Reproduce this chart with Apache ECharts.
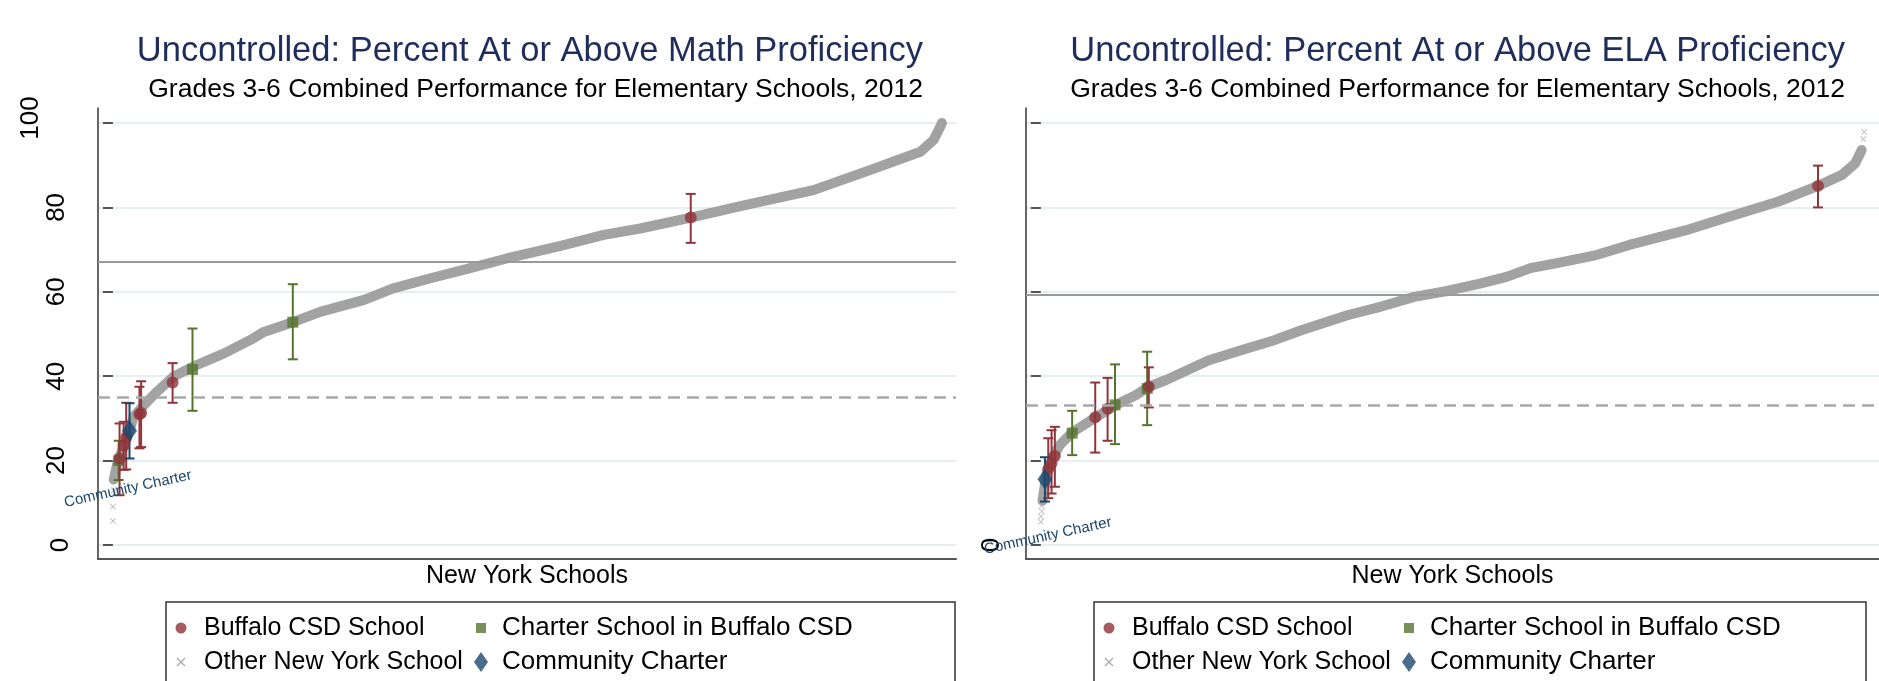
<!DOCTYPE html>
<html>
<head>
<meta charset="UTF-8">
<title>Percent At or Above Proficiency</title>
<style>
  html, body { margin: 0; padding: 0; background: #fff; }
  #main { width: 1879px; height: 681px; }
</style>
</head>
<body>
<div id="main"></div>
<script src="https://cdn.jsdelivr.net/npm/echarts@6/dist/echarts.min.js"></script>
<script>
// x = school rank as a percentile (0 = lowest school), y = percent proficient

// ---- Math panel ----
var mathCurveRank  = [0.1, 0.5, 1.2, 1.9, 2.5, 3.9, 5.3, 7.3, 9.7, 13.4, 16.6, 18.2, 21.7, 25.1, 30.3, 33.8, 38.3, 43.1, 47.5, 54.0, 59.2, 63.6, 69.7, 75.7, 84.5, 91.4, 97.4, 99.0, 99.8, 100];
var mathCurveScore = [15.5, 19.0, 23.0, 26.5, 30.4, 33.5, 36.3, 39.9, 42.3, 45.4, 48.6, 50.5, 52.8, 55.3, 58.1, 60.8, 63.2, 65.6, 67.9, 70.9, 73.5, 75.0, 77.6, 80.3, 84.1, 88.9, 93.2, 96.0, 99.1, 100];
var mathOtherRank  = [0.0, 0.0, 0.1, 99.9, 100];
var mathOtherScore = [5.7, 9.1, 13.0, 99.5, 100.4];

var mathBuffaloRank  = [0.8, 1.3, 1.6, 3.2, 3.4, 7.2, 69.7];
var mathBuffaloScore = [20.5, 23.5, 25.5, 31.0, 31.3, 38.5, 77.6];
var mathBuffaloLow   = [11.8, 17.8, 17.9, 22.9, 23.2, 33.7, 71.6];
var mathBuffaloHigh  = [28.8, 29.2, 33.7, 37.5, 38.8, 43.1, 83.2];

var mathCharterRank  = [0.7, 9.6, 21.7];
var mathCharterScore = [20.0, 41.6, 52.8];
var mathCharterLow   = [15.4, 31.8, 44.0];
var mathCharterHigh  = [24.7, 51.3, 61.8];

var mathCommunityRank  = [2.0];
var mathCommunityScore = [27.1];
var mathCommunityLow   = [20.5];
var mathCommunityHigh  = [33.6];

var mathStateLine = 67.2;
var mathBuffaloLine = 35.1;

// ---- ELA panel ----
var elaCurveRank  = [0.2, 0.7, 1.5, 2.3, 3.9, 5.5, 7.1, 9.5, 11.5, 13.1, 15.2, 19.2, 20.4, 24.4, 28.4, 31.6, 37.3, 41.3, 45.3, 49.3, 53.4, 56.6, 59.4, 62.6, 67.4, 71.4, 78.3, 83.5, 89.5, 94.3, 97.2, 98.8, 99.6];
var elaCurveScore = [10.5, 17.0, 20.9, 23.7, 26.8, 28.8, 30.8, 33.6, 35.5, 37.5, 39.1, 42.7, 43.8, 46.2, 48.6, 50.9, 54.5, 56.5, 58.8, 60.2, 62.0, 63.6, 65.6, 66.8, 68.7, 71.1, 74.6, 77.8, 81.4, 85.1, 87.7, 90.4, 93.6];
var elaOtherRank  = [0.0, 0.0, 0.1, 0.1, 99.8, 99.9];
var elaOtherScore = [5.5, 6.8, 8.0, 9.3, 96.2, 97.9];

var elaBuffaloRank  = [0.9, 1.3, 1.7, 6.6, 8.1, 13.1, 94.3];
var elaBuffaloScore = [18.0, 19.4, 21.1, 30.3, 32.3, 37.5, 85.1];
var elaBuffaloLow   = [11.1, 12.2, 13.8, 21.9, 24.7, 32.6, 80.0];
var elaBuffaloHigh  = [25.3, 27.2, 28.0, 38.5, 39.6, 42.1, 89.9];

var elaCharterRank  = [3.8, 9.0, 12.9];
var elaCharterScore = [26.5, 33.2, 37.1];
var elaCharterLow   = [21.3, 23.9, 28.4];
var elaCharterHigh  = [31.8, 42.8, 45.8];

var elaCommunityRank  = [0.5];
var elaCommunityScore = [15.6];
var elaCommunityLow   = [10.3];
var elaCommunityHigh  = [20.8];

var elaStateLine = 59.2;
var elaBuffaloLine = 33.1;

var FONT = '"Liberation Sans", Arial, Helvetica, sans-serif';
var RED = '#90353b', GREEN = '#55752f', NAVY = '#1a476f', CURVE = '#a2a2a2', GRIDC = '#e6eef0';
var XMARK = 'path://M1,0 L5,4 L9,0 L10,1 L6,5 L10,9 L9,10 L5,6 L1,10 L0,9 L4,5 L0,1 Z';

function pts(xs, ys) { return xs.map(function (x, i) { return [x, ys[i]]; }); }
function bars(xs, lo, hi) { return xs.map(function (x, i) { return [x, lo[i], hi[i]]; }); }

function errorBar(color) {
	return function (params, api) {
		var lo = api.coord([api.value(0), api.value(1)]);
		var hi = api.coord([api.value(0), api.value(2)]);
		var w = 5;
		var st = { stroke: color, lineWidth: 2 };
		return {
			type: 'group',
			children: [
				{ type: 'line', shape: { x1: lo[0], y1: lo[1], x2: hi[0], y2: hi[1] }, style: st },
				{ type: 'line', shape: { x1: hi[0] - w, y1: hi[1], x2: hi[0] + w, y2: hi[1] }, style: st },
				{ type: 'line', shape: { x1: lo[0] - w, y1: lo[1], x2: lo[0] + w, y2: lo[1] }, style: st }
			]
		};
	};
}

function panelSeries(ax, d) {
	return [
		{
			type: 'line', xAxisIndex: ax, yAxisIndex: ax, data: [], z: 1, silent: true,
			markLine: {
				symbol: 'none', silent: true, label: { show: false },
				data: [
					{ yAxis: d.state, lineStyle: { color: '#9a9a9a', width: 2, type: 'solid' } },
					{ yAxis: d.buffalo, lineStyle: { color: '#a8a8a8', width: 2.5, type: [12, 7] } }
				]
			}
		},
		{
			name: 'Other New York School', type: 'line', xAxisIndex: ax, yAxisIndex: ax, z: 2,
			data: pts(d.curveX, d.curveY), showSymbol: false, symbol: 'none', silent: true,
			lineStyle: { color: CURVE, width: 10, cap: 'round', join: 'round' }
		},
		{
			name: 'Other New York School', type: 'scatter', xAxisIndex: ax, yAxisIndex: ax, z: 2,
			data: pts(d.otherX, d.otherY), symbol: XMARK, symbolSize: 6, itemStyle: { color: '#a8a8a8' }
		},
		{ name: 'ci green', type: 'custom', xAxisIndex: ax, yAxisIndex: ax, z: 3, renderItem: errorBar(GREEN), data: bars(d.chX, d.chLo, d.chHi) },
		{ name: 'ci red', type: 'custom', xAxisIndex: ax, yAxisIndex: ax, z: 3, renderItem: errorBar(RED), data: bars(d.buX, d.buLo, d.buHi) },
		{ name: 'ci navy', type: 'custom', xAxisIndex: ax, yAxisIndex: ax, z: 3, renderItem: errorBar(NAVY), data: bars(d.coX, d.coLo, d.coHi) },
		{
			name: 'Charter School in Buffalo CSD', type: 'scatter', xAxisIndex: ax, yAxisIndex: ax, z: 4,
			data: pts(d.chX, d.chY), symbol: 'rect', symbolSize: 11, itemStyle: { color: GREEN }
		},
		{
			name: 'Buffalo CSD School', type: 'scatter', xAxisIndex: ax, yAxisIndex: ax, z: 4,
			data: pts(d.buX, d.buY), symbol: 'circle', symbolSize: 12, itemStyle: { color: RED }
		},
		{
			name: 'Community Charter', type: 'scatter', xAxisIndex: ax, yAxisIndex: ax, z: 4,
			data: pts(d.coX, d.coY), symbol: 'diamond', symbolSize: [15, 21], itemStyle: { color: NAVY }
		}
	];
}

var mathData = {
	state: mathStateLine, buffalo: mathBuffaloLine,
	curveX: mathCurveRank, curveY: mathCurveScore, otherX: mathOtherRank, otherY: mathOtherScore,
	buX: mathBuffaloRank, buY: mathBuffaloScore, buLo: mathBuffaloLow, buHi: mathBuffaloHigh,
	chX: mathCharterRank, chY: mathCharterScore, chLo: mathCharterLow, chHi: mathCharterHigh,
	coX: mathCommunityRank, coY: mathCommunityScore, coLo: mathCommunityLow, coHi: mathCommunityHigh
};
var elaData = {
	state: elaStateLine, buffalo: elaBuffaloLine,
	curveX: elaCurveRank, curveY: elaCurveScore, otherX: elaOtherRank, otherY: elaOtherScore,
	buX: elaBuffaloRank, buY: elaBuffaloScore, buLo: elaBuffaloLow, buHi: elaBuffaloHigh,
	chX: elaCharterRank, chY: elaCharterScore, chLo: elaCharterLow, chHi: elaCharterHigh,
	coX: elaCommunityRank, coY: elaCommunityScore, coLo: elaCommunityLow, coHi: elaCommunityHigh
};

var PLOT_W = 858;
var PANEL_X = [98, 1026];

function frameX(g) {
	return {
		gridIndex: g, type: 'value', min: -1.8, max: 101.7,
		axisLine: { show: true, onZero: false, lineStyle: { color: '#555', width: 2 } },
		axisTick: { show: false }, axisLabel: { show: false }, splitLine: { show: false },
		name: 'New York Schools', nameLocation: 'middle', nameGap: 5,
		nameTextStyle: { fontFamily: FONT, fontSize: 25, color: '#000', verticalAlign: 'top' }
	};
}
function frameY(g) {
	return {
		gridIndex: g, type: 'value', min: 0, max: 1,
		axisLine: { show: true, onZero: false, lineStyle: { color: '#333', width: 1.5 } },
		axisTick: { show: false }, axisLabel: { show: false }, splitLine: { show: false }
	};
}
function dataX(g) {
	return { gridIndex: g, type: 'value', min: -1.8, max: 101.7, show: false };
}
function dataY(g, pad) {
	var base = { fontFamily: FONT, fontSize: 26, color: '#000' };
	return {
		gridIndex: g, type: 'value', min: 0, max: 100, interval: 20,
		axisLine: { show: false },
		axisTick: { show: true, length: 10, lineStyle: { color: '#222', width: 1.5 } },
		splitLine: { show: true, lineStyle: { color: GRIDC, width: 2 } },
		axisLabel: {
			rotate: 90, margin: pad[0],
			formatter: function (v) {
				var k = v === 0 ? 'a' : (v === 100 ? 'c' : 'b');
				return '{' + k + '|' + v + '}';
			},
			rich: {
				a: Object.assign({ padding: [0, 0, 0, 0] }, base),
				b: Object.assign({ padding: [0, 0, pad[1], 0] }, base),
				c: Object.assign({ padding: [0, 0, pad[2], pad[3]] }, base)
			}
		}
	};
}

function legendItem(name, icon, color, left, top, w, h, gap, size) {
	return {
		left: left, top: top, itemWidth: w, itemHeight: h, selectedMode: false,
		data: [{ name: name, icon: icon, itemStyle: { color: color } }],
		textStyle: { fontFamily: FONT, fontSize: size, color: '#000', lineHeight: 28, padding: [0, 0, 0, gap] }
	};
}
function panelLegends(dx) {
	return [
		legendItem('Buffalo CSD School', 'circle', RED, 170.5 + dx, 609, 11, 11, 12.5, 25),
		legendItem('Charter School in Buffalo CSD', 'rect', GREEN, 471 + dx, 609, 10, 10, 11, 26),
		legendItem('Other New York School', XMARK, '#aaaaaa', 171.5 + dx, 643, 9, 9, 13.5, 25),
		legendItem('Community Charter', 'diamond', NAVY, 469 + dx, 643, 14, 20, 9, 26)
	];
}

function titleTexts(rx, main) {
	return [
		{ type: 'text', x: rx, y: 51, style: { text: main, font: '34.5px ' + FONT, fill: '#1f2d5c', textAlign: 'right', textVerticalAlign: 'middle' } },
		{ type: 'text', x: rx, y: 90, style: { text: 'Grades 3-6 Combined Performance for Elementary Schools, 2012', font: '26.5px ' + FONT, fill: '#000', textAlign: 'right', textVerticalAlign: 'middle' } }
	];
}

var chart = echarts.init(document.getElementById('main'), null, { renderer: 'canvas' });
var option = {
	animation: false,
	backgroundColor: '#fff',
	grid: [
		{ left: PANEL_X[0], top: 108, width: PLOT_W, height: 451 },
		{ left: PANEL_X[0], top: 123, width: PLOT_W, height: 422 },
		{ left: PANEL_X[1], top: 108, width: PLOT_W, height: 451 },
		{ left: PANEL_X[1], top: 123, width: PLOT_W, height: 422 }
	],
	xAxis: [frameX(0), dataX(1), frameX(2), dataX(3)],
	yAxis: [frameY(0), dataY(1, [24, 4, 30, 10]), frameY(2), dataY(3, [21, 22, 22, 0])],
	legend: panelLegends(0).concat(panelLegends(928)),
	series: panelSeries(1, mathData).concat(panelSeries(3, elaData)),
	graphic: titleTexts(923, 'Uncontrolled: Percent At or Above Math Proficiency')
		.concat(titleTexts(1845, 'Uncontrolled: Percent At or Above ELA Proficiency'))
		.concat([
			// the left image overlaps the right one's tick labels
			{ type: 'rect', z: 100, shape: { x: 957, y: 95, width: 24, height: 435 }, style: { fill: '#fff' } },
			{ type: 'rect', shape: { x: 166, y: 602, width: 789, height: 100 }, style: { fill: 'none', stroke: '#333', lineWidth: 1.5 } },
			{ type: 'rect', shape: { x: 1094, y: 602, width: 772, height: 100 }, style: { fill: 'none', stroke: '#333', lineWidth: 1.5 } },
			{ type: 'text', x: 128, y: 489, rotation: 0.215, z: 50, style: { text: 'Community Charter', font: '15px ' + FONT, fill: NAVY, textAlign: 'center', textVerticalAlign: 'middle' } },
			{ type: 'text', x: 1048, y: 536, rotation: 0.215, z: 50, style: { text: 'Community Charter', font: '15px ' + FONT, fill: NAVY, textAlign: 'center', textVerticalAlign: 'middle' } }
		])
};
chart.setOption(option);
</script>
</body>
</html>
